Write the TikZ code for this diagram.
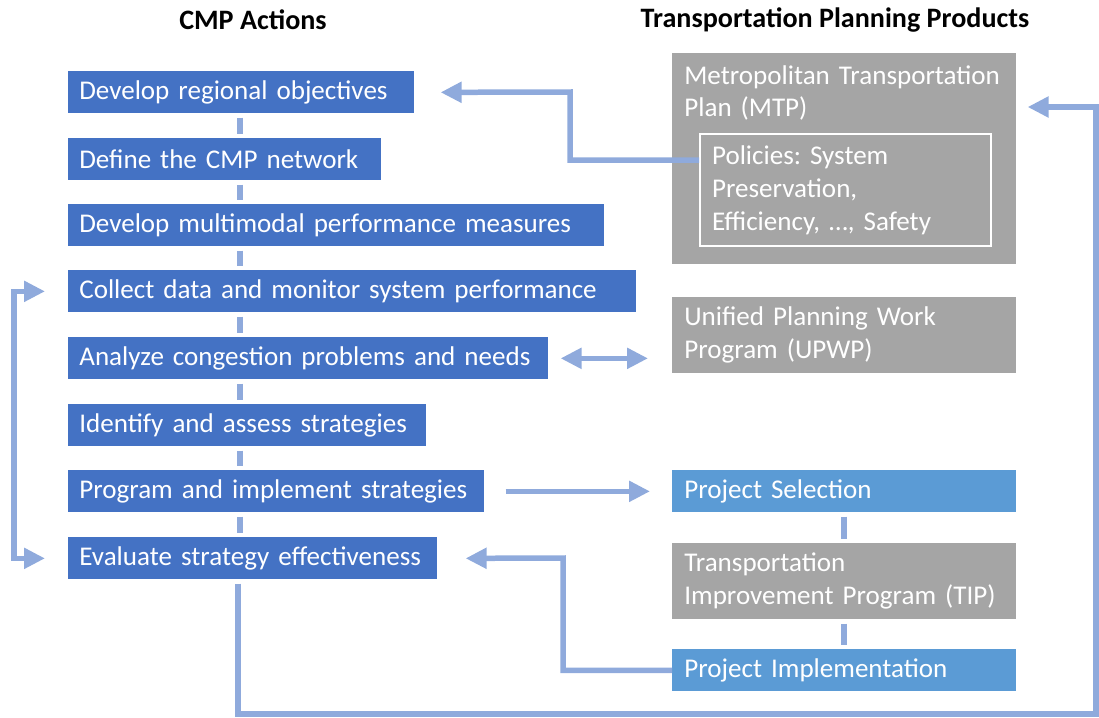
\documentclass[tikz,border=0pt]{standalone}
\usepackage{fontspec}
\setmainfont{Carlito}
\usepackage{xcolor}
\usetikzlibrary{positioning,arrows.meta}
\definecolor{actblue}{HTML}{4472C4}
\definecolor{projblue}{HTML}{5B9BD5}
\definecolor{prodgray}{HTML}{A5A5A5}
\definecolor{arrblue}{HTML}{8FAADC}
\frenchspacing
\tikzset{
  act/.style={fill=actblue, text=white, anchor=north west, align=left, minimum height=0.84cm, inner xsep=0.22cm, inner ysep=0pt, font=\fontsize{15.4}{18.7}\selectfont},
  prod/.style={fill=prodgray, text=white, anchor=north west, align=left, text width=6.4cm, inner xsep=0.24cm, inner ysep=0pt, font=\fontsize{15.4}{18.7}\selectfont},
  proj/.style={prod, fill=projblue, minimum height=0.84cm},
  link/.style={draw=arrblue, line width=0.12cm, shorten <=0.08cm, shorten >=0.08cm},
  arr/.style={draw=arrblue, line width=0.11cm, -{Triangle[length=0.42cm,width=0.4cm]}},
  head/.style={font=\fontsize{16}{19}\selectfont\bfseries}
}
\begin{document}
\begin{tikzpicture}[x=0.02cm, y=-0.02cm]
  \useasboundingbox (0,0) rectangle (1099,717);
  
  \node[head] (cmphead) at (253,20) {CMP Actions};
  \node[head] (tpphead) at (835,20) {Transportation Planning Products};
  
  \node[act, text width=6.48cm] (objectives) at (68,71) {Develop regional objectives};
  \node[act, text width=5.82cm] (network) at (68,138) {Define the CMP network};
  \node[act, text width=10.28cm] (measures) at (68,204) {Develop multimodal performance measures};
  \node[act, text width=10.92cm] (collect) at (68,270) {Collect data and monitor system performance};
  \node[act, text width=9.16cm] (analyze) at (68,337) {Analyze congestion problems and needs};
  \node[act, text width=6.72cm] (identify) at (68,404) {Identify and assess strategies};
  \node[act, text width=7.88cm] (program) at (68,470) {Program and implement strategies};
  \node[act, text width=6.94cm] (evaluate) at (68,537) {Evaluate strategy effectiveness};
  
  \foreach \a/\b in {objectives/network, network/measures, measures/collect, collect/analyze, analyze/identify, identify/program, program/evaluate}
    \draw[link] (\a.south -| 240,0) -- (\b.north -| 240,0);
  
  \node[prod, minimum height=4.22cm] (mtp) at (672,53) {};
  \node[prod, fill=none, inner ysep=0.24cm] (mtptext) at (mtp.north west) {Metropolitan Transportation\\Plan (MTP)};
  \node[prod, draw=white, line width=1.2pt, text width=5.34cm, minimum height=2.24cm] (policies) at (699,133) {Policies: System\\Preservation,\\Efficiency, \dots, Safety};
  \node[prod, minimum height=1.52cm] (upwp) at (672,297) {Unified Planning Work\\Program (UPWP)};
  \node[proj] (selection) at (672,470) {Project Selection};
  \node[prod, minimum height=1.52cm] (tip) at (672,543) {Transportation\\Improvement Program (TIP)};
  \node[proj] (implementation) at (672,649) {Project Implementation};
  
  \draw[link] (selection.south) -- (tip.north);
  \draw[link] (tip.south) -- (implementation.north);
  
  \draw[arr] (policies.west |- 0,160) -| (570,92) -- ([xshift=0.52cm]objectives.east);
  \draw[arr, {Triangle[length=0.42cm,width=0.4cm]}-{Triangle[length=0.42cm,width=0.4cm]}] ([xshift=0.24cm]analyze.east) -- ([xshift=-0.48cm]analyze.east -| upwp.west);
  \draw[arr] ([xshift=0.42cm]program.east) -- ([xshift=-0.44cm]program.east -| selection.west);
  \draw[arr] (implementation.west) -| (563,558) -- ([xshift=0.56cm]evaluate.east);
  \draw[arr] ([yshift=-0.08cm]evaluate.south -| 238,0) |- (1096,714) |- ([xshift=0.22cm]mtp.east |- 0,107);
  \draw[arr, {Triangle[length=0.42cm,width=0.4cm]}-{Triangle[length=0.42cm,width=0.4cm]}] ([xshift=-0.46cm]collect.west) -| (14,425) |- ([xshift=-0.46cm]evaluate.west);
\end{tikzpicture}
\end{document}
